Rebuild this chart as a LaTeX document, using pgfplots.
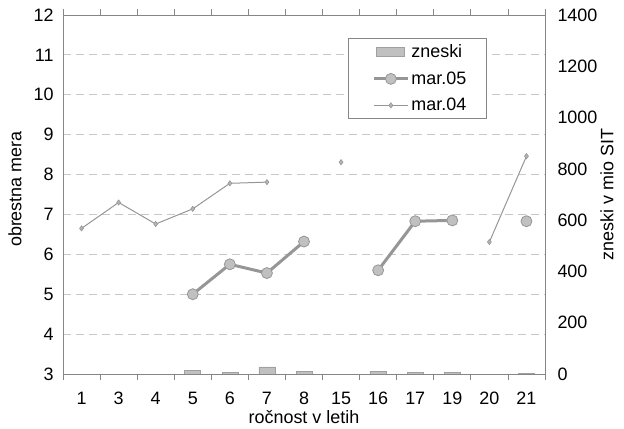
\documentclass[border=0pt]{standalone}
\usepackage{fontspec}
\setmainfont{Liberation Sans}
\usepackage{pgfplots}
\pgfplotsset{compat=1.18}
\definecolor{axgray}{HTML}{868686}
\definecolor{gridgray}{HTML}{C8C8C8}
\definecolor{linegray}{HTML}{969696}
\definecolor{markfill}{HTML}{C0C0C0}
\definecolor{diafill}{HTML}{B4B4B4}
\definecolor{barfill}{HTML}{C0C0C0}
\definecolor{bardraw}{HTML}{A0A0A0}
\begin{document}
\begin{tikzpicture}[font=\fontsize{18}{21}\selectfont]
% right axis: bars
\begin{axis}[
  name=axr,
  scale only axis, width=482bp, height=359bp,
  xmin=-0.5, xmax=12.5, ymin=0, ymax=1400,
  axis y line*=right, axis x line=none,
  ytick={0,200,...,1400},
  major tick length=0pt,
  y axis line style={axgray, line width=0.8bp},
  ylabel={zneski v mio SIT},
  ylabel style={at={(axis description cs:1.1286,0.5)}, anchor=center},
  yticklabel style={anchor=west, xshift=9bp},
  /pgf/number format/assume math mode=true,
  /pgf/number format/1000 sep={},
]
\addplot[ybar, bar width=16bp, fill=barfill, draw=bardraw, line width=0.6bp] coordinates {
(3,13) (4,6) (5,28) (6,10) (8,9) (9,5) (10,6) (12,3)};
\end{axis}
% left axis: lines
\begin{axis}[
  name=ax,
  scale only axis, width=482bp, height=359bp,
  xmin=-0.5, xmax=12.5, ymin=3, ymax=12,
  axis line style={axgray, line width=0.8bp},
  xtick={0,...,12},
  xticklabels={1,3,4,5,6,7,8,15,16,17,19,20,21},
  ytick={3,...,12},
  major tick length=0pt,
  extra x ticks={-0.5,0.5,...,12.5},
  extra x tick labels={},
  extra x tick style={major tick length=6bp, tick align=outside, grid=none, tick style={axgray, line width=0.8bp}},
  ymajorgrids,
  grid style={gridgray, dash pattern=on 8bp off 5bp, line width=0.8bp},
  xticklabel style={anchor=base, yshift=-31bp},
  yticklabel style={anchor=east, xshift=-6bp},
  xlabel={ročnost v letih},
  xlabel style={at={(axis description cs:0.5,0)}, anchor=base, yshift=-50bp},
  ylabel={obrestna mera},
  ylabel style={at={(axis description cs:-0.0996,0.515)}, anchor=center},
  /pgf/number format/assume math mode=true,
  unbounded coords=jump,
  clip=false,
  legend style={at={(0.5913,0.936)}, anchor=north west, draw=axgray, fill=white,
    line width=0.8bp, inner xsep=18bp, inner ysep=5bp, row sep=9.5bp,
    nodes={inner xsep=2bp, inner ysep=1.5bp},
    cells={anchor=west}, font=\fontsize{18}{21}\selectfont},
  legend image code/.code={\path (-6bp,0bp); \draw[mark repeat=2, mark phase=2] plot coordinates {(0bp,0bp) (17bp,0bp) (34bp,0bp)};},
]
\addlegendimage{legend image code/.code={\path (-6bp,0bp) (34bp,0bp); \draw[fill=barfill, draw=bardraw, line width=0.6bp] (2bp,-4.5bp) rectangle (30bp,4.5bp);}}
\addlegendentry{zneski}
\addplot[linegray, line width=3bp, mark=*, mark size=5.5bp,
  mark options={fill=markfill, draw=linegray, line width=0.8bp}] coordinates {
(3,5.0) (4,5.75) (5,5.53) (6,6.32) (7,nan) (8,5.6) (9,6.83) (10,6.85) (11,nan) (12,6.83)};
\addlegendentry{mar.05}
\addplot[linegray, line width=1bp, mark=diamond*, mark size=2.6bp,
  mark options={fill=diafill, draw=linegray, line width=0.6bp}] coordinates {
(0,6.65) (1,7.3) (2,6.76) (3,7.14) (4,7.78) (5,7.81) (6,nan) (7,8.31) (8,nan) (9,nan) (10,nan) (11,6.31) (12,8.46)};
\addlegendentry{mar.04}
\end{axis}
\pgfresetboundingbox
\path[use as bounding box] ([shift={(-63bp,-55bp)}]ax.south west) rectangle ([shift={(79bp,15bp)}]ax.north east);
\end{tikzpicture}
\end{document}
